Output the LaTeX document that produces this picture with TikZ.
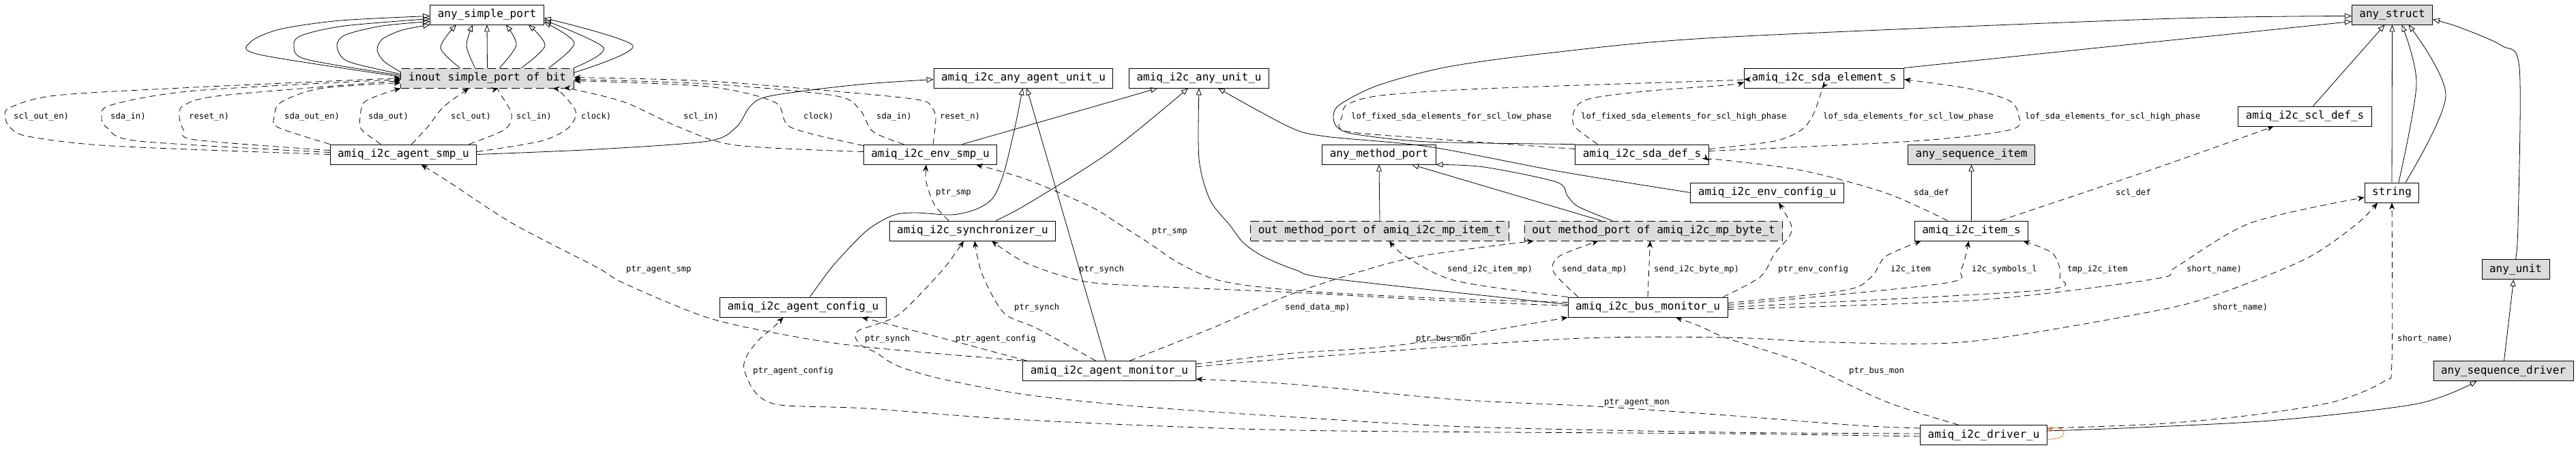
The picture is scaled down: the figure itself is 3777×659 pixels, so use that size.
\documentclass[tikz,border=0pt]{standalone}
\usepackage{fontspec}
\usepackage{tikz}
\usetikzlibrary{arrows.meta}
\newfontfamily\clsfont{DejaVu Sans Mono}
\definecolor{boxgray}{RGB}{220,220,220}
\definecolor{loopcol}{RGB}{240,120,30}

\begin{document}
\begin{tikzpicture}[x=1pt,y=-1pt]
 \tikzstyle{cls}=[draw, rectangle, line width=0.9pt, minimum height=29pt, inner xsep=11pt, inner ysep=0pt, font=\clsfont\fontsize{16}{18}\selectfont]
 \tikzstyle{basecls}=[cls, fill=boxgray]
 \tikzstyle{portcls}=[cls, fill=boxgray, dash pattern=on 12pt off 6pt]
 \tikzstyle{inh}=[line width=0.8pt, -{Triangle[open, length=10pt, width=8pt]}]
 \tikzstyle{assoc}=[line width=0.8pt, dash pattern=on 9pt off 6pt, -{Stealth[length=10pt, width=8pt]}]
 \tikzstyle{lbl}=[anchor=west, inner sep=0pt, font=\clsfont\fontsize{12.2}{14}\selectfont]
 \useasboundingbox (0,0) rectangle (3777,659);

 \node[cls] at (714,21.5) (asp) {any\_simple\_port};
 \node[basecls] at (3507.5,21.5) (astr) {any\_struct};
 \node[portcls] at (714.5,114.5) (inout) {inout simple\_port of bit};
 \node[cls] at (1500.5,114.5) (aau) {amiq\_i2c\_any\_agent\_unit\_u};
 \node[cls] at (1758,114.5) (au) {amiq\_i2c\_any\_unit\_u};
 \node[cls] at (2674.5,114.5) (sdael) {amiq\_i2c\_sda\_element\_s};
 \node[cls] at (3379.5,170.5) (scldef) {amiq\_i2c\_scl\_def\_s};
 \node[cls] at (591.5,226.5) (agsmp) {amiq\_i2c\_agent\_smp\_u};
 \node[cls] at (1364,226.5) (envsmp) {amiq\_i2c\_env\_smp\_u};
 \node[cls] at (2022,226.5) (amp) {any\_method\_port};
 \node[cls] at (2407.5,226.5) (sdadef) {amiq\_i2c\_sda\_def\_s};
 \node[basecls] at (2890.5,226.5) (aseqi) {any\_sequence\_item};
 \node[cls] at (2591,282.5) (envcfg) {amiq\_i2c\_env\_config\_u};
 \node[cls] at (3507,282.5) (str) {string};
 \node[cls] at (1426,338.5) (sync) {amiq\_i2c\_synchronizer\_u};
 \node[portcls] at (2023,338.5) (mpitem) {out method\_port of amiq\_i2c\_mp\_item\_t};
 \node[portcls] at (2424.5,338.5) (mpbyte) {out method\_port of amiq\_i2c\_mp\_byte\_t};
 \node[cls] at (2890.5,338.5) (item) {amiq\_i2c\_item\_s};
 \node[basecls] at (3688.5,395) (aunit) {any\_unit};
 \node[cls] at (1177.5,450.5) (agcfg) {amiq\_i2c\_agent\_config\_u};
 \node[cls] at (2416,450.5) (busmon) {amiq\_i2c\_bus\_monitor\_u};
 \node[cls] at (1626.5,544) (agmon) {amiq\_i2c\_agent\_monitor\_u};
 \node[basecls] at (3670.5,544) (aseqd) {any\_sequence\_driver};
 \node[cls] at (2908.5,638) (drv) {amiq\_i2c\_driver\_u};

 \draw[inh] plot[smooth] coordinates {([yshift=2pt]inout.west) (380,80) (367,62) (410,43) (500,30) ([yshift=-2pt]asp.west)};
 \draw[inh] plot[smooth] coordinates {([yshift=4pt]inout.west) (449,87) (431,67) (442,52) (505,38) ([yshift=-6pt]asp.west)};
 \draw[inh] plot[smooth] coordinates {([yshift=6pt]inout.west) (510,90) (494,67) (507,51) (560,38) ([yshift=-10pt]asp.west)};
 \draw[inh] plot[smooth] coordinates {([yshift=9pt]inout.west) (563,90) (553,73) (561,57) (590,44) (asp.south west)};
 \draw[inh] plot[smooth] coordinates {([xshift=-40pt]inout.north) (646,70) ([xshift=-45pt]asp.south)};
 \draw[inh] plot[smooth] coordinates {([xshift=-18pt]inout.north) (684,67) ([xshift=-21pt]asp.south)};
 \draw[inh] (inout.north) -- (asp.south);
 \draw[inh] plot[smooth] coordinates {([xshift=18pt]inout.north) (757,66) ([xshift=28pt]asp.south)};
 \draw[inh] plot[smooth] coordinates {([xshift=50pt]inout.north) (799,67) ([xshift=61pt]asp.south)};
 \draw[inh] plot[smooth] coordinates {([xshift=90pt]inout.north) (842,63) ([yshift=-11pt]asp.east)};
 \draw[inh] plot[smooth] coordinates {(inout.north east) (885,70) ([yshift=-8pt]asp.east)};
 \draw[inh] plot[smooth] coordinates {([yshift=8pt]inout.east) (928,67) ([yshift=-5pt]asp.east)};

 \draw[assoc] plot[smooth] coordinates {(agsmp.west) (163,214) (41,200) (14,186) (8,172) (14,158) (82,140) (286,128) (inout.west)};
 \draw[assoc] plot[smooth] coordinates {([yshift=3pt]agsmp.west) (204,207) (158,188) (149,172) (163,154) (286,133) ([yshift=-2pt]inout.west)};
 \draw[assoc] plot[smooth] coordinates {([yshift=6pt]agsmp.west) (286,205) (269,190) (263,172) (269,155) (326,140) ([yshift=-4pt]inout.west)};
 \draw[assoc] plot[smooth] coordinates {(agsmp.north west) (408,187) (402,172) (412,150) (469,130) ([yshift=-7pt]inout.west)};
 \draw[assoc] plot[smooth] coordinates {([xshift=-33pt]agsmp.north) (530,190) (528,172) (534,150) (563,137) (inout.south west)};
 \draw[assoc] plot[smooth] coordinates {([xshift=12pt]agsmp.north) (628,185) (650,157) ([xshift=-27pt]inout.south)};
 \draw[assoc] plot[smooth] coordinates {([xshift=96pt]agsmp.north) (740,190) (750,167) (732,135) ([xshift=16pt]inout.south)};
 \draw[assoc] plot[smooth] coordinates {([yshift=4pt]agsmp.east) (793,207) (834,187) (844,163) (822,135) ([xshift=96pt]inout.south)};
 \draw[assoc] plot[smooth] coordinates {([yshift=4pt]envsmp.west) (1079,213) (997,187) (916,150) (845,132) ([xshift=112pt]inout.south)};
 \draw[assoc] plot[smooth] coordinates {([yshift=13pt]envsmp.west) (1160,187) (1136,150) (1038,127) ([yshift=-4pt]inout.east)};
 \draw[assoc] plot[smooth] coordinates {([xshift=-39pt]envsmp.north) (1280,193) (1260,160) (1222,140) (1038,123) ([yshift=-2pt]inout.east)};
 \draw[assoc] plot[smooth] coordinates {([xshift=4pt]envsmp.north) (1372,173) (1366,157) (1350,147) (1260,137) (1038,119) ([yshift=1pt]inout.east)};

 \draw[inh] plot[smooth] coordinates {(agsmp.east) (875,219) (1038,207) (1079,187) (1099,157) (1120,143) (1181,133) (1270,123) ([yshift=-2pt]aau.west)};
 \draw[inh] plot[smooth] coordinates {([xshift=47pt]envsmp.north) (1619,152) ([xshift=-61pt]au.south)};
 \draw[inh] plot[smooth] coordinates {([xshift=10pt]agcfg.north) (1222,389) (1270,339) (1309,316) (1342,312) (1395,315) (1431,307) (1456,290) (1472,253) (1488,187) ([xshift=-1pt]aau.south)};
 \draw[inh] plot[smooth] coordinates {([xshift=34pt]sync.north) (1505,300) (1627,223) ([xshift=-16pt]au.south)};
 \draw[inh] ([xshift=-5pt]agmon.north) -- ([xshift=5pt]aau.south);
 \draw[inh] plot[smooth] coordinates {([yshift=4pt]busmon.west) (1955,409) (1900,396) (1852,376) (1823,356) (1803,330) (1774,293) (1758,233) (au.south)};
 \draw[inh] plot[smooth] coordinates {(envcfg.west) (2290,252) (2094,215) (1943,200) (1890,186) ([xshift=28pt]au.south)};
 \draw[inh] (mpitem.north) -- (amp.south);
 \draw[inh] ([xshift=-77pt]mpbyte.north) -- ([xshift=48pt]amp.south);
 \draw[inh] plot[smooth] coordinates {([xshift=-61pt]mpbyte.north) (2314,303) (2298,287) (2282,267) (2176,245) (amp.south east)};
 \draw[inh] (item.north) -- (aseqi.south);
 \draw[inh] (str.north) -- (astr.south);
 \draw[inh] plot[smooth] coordinates {([xshift=10pt]str.north) (3543,123) ([xshift=14pt]astr.south)};
 \draw[inh] plot[smooth] coordinates {([xshift=20pt]str.north) (3586,140) ([xshift=24pt]astr.south)};
 \draw[inh] ([xshift=12pt]scldef.north) -- ([xshift=-11pt]astr.south);
 \draw[inh] (sdael.north east) -- ([yshift=-10pt]astr.west);
 \draw[inh] plot[smooth] coordinates {(sdadef.north west) (2094,208) (1988,197) (1961,187) (1955,170) (1965,153) (2021,125) (2123,98) (2278,77) (2520,55) (3160,28) ([yshift=-2pt]astr.west)};
 \draw[inh] ([xshift=1pt]aseqd.north) -- ([xshift=-3pt]aunit.south);
 \draw[inh] plot[smooth] coordinates {(aunit.north) (3692,329) (3694,100) (3668,67) (3606,40) ([yshift=-7pt]astr.east)};
 \draw[inh] plot[smooth] coordinates {([yshift=6pt]drv.east) (3137,627) (3341,616) (3545,592) ([xshift=-39pt]aseqd.south)};

 \draw[assoc] plot[smooth] coordinates {([xshift=-35pt]sync.north) (1370,300) (1358,267) ([xshift=-6pt]envsmp.south)};
 \draw[assoc] plot[smooth] coordinates {([yshift=7pt]busmon.west) (2100,437) (1900,426) (1790,412) (1729,386) (1684,356) (1635,325) (1599,303) (1505,263) ([xshift=67pt]envsmp.south)};
 \draw[assoc] plot[smooth] coordinates {([yshift=2pt]busmon.west) (2100,440) (1900,429) (1668,419) (1586,412) (1505,386) ([xshift=28pt]sync.south)};
 \draw[assoc] plot[smooth] coordinates {([xshift=-20pt]agmon.north) (1521,482) (1472,459) (1440,402) ([xshift=3pt]sync.south)};
 \draw[assoc] plot[smooth] coordinates {([yshift=2pt]drv.west) (2530,634) (2151,626) (1900,612) (1668,596) (1505,579) (1382,556) (1317,537) (1284,517) (1263,507) (1254,494) (1260,484) (1284,476) (1321,459) (1382,396) ([xshift=-13pt]sync.south)};
 \draw[assoc] plot[smooth] coordinates {([xshift=6pt]agmon.north west) (1382,496) ([xshift=86pt]agcfg.south)};
 \draw[assoc] plot[smooth] coordinates {([yshift=-2pt]drv.west) (2530,636) (1900,631) (1505,616) (1270,599) (1144,594) (1108,576) (1091,542) (1095,522) (1112,499) (1132,482) ([xshift=-29pt]agcfg.south)};
 \draw[assoc] plot[smooth] coordinates {(agmon.north west) (1270,509) (1156,492) (1038,466) (916,416) (875,392) (752,328) (660,268) ([xshift=26pt]agsmp.south)};
 \draw[assoc] plot[smooth] coordinates {([yshift=10pt]drv.west) (2724,624) (2530,609) (2339,596) (2135,586) (1900,564) ([yshift=-12pt]agmon.east)};
 \draw[assoc] plot[smooth] coordinates {([yshift=10pt]agmon.east) (1895,518) (2053,506) (busmon.south west)};
 \draw[assoc] plot[smooth] coordinates {([xshift=30pt]agmon.north) (1780,480) (1900,429) (2066,379) ([xshift=14pt]mpbyte.south west)};
 \draw[assoc] plot[smooth] coordinates {([yshift=6pt]agmon.east) (1890,526) (2298,497) (2530,495) (2683,502) (2887,501) (3160,456) (3259,429) (3382,379) (3455,329) ([xshift=-21pt]str.south)};
 \draw[assoc] plot[smooth] coordinates {(busmon.north west) (2135,412) (2061,376) ([xshift=14pt]mpitem.south)};
 \draw[assoc] plot[smooth] coordinates {([xshift=-102pt]busmon.north) (2278,399) (2286,376) ([xshift=-81pt]mpbyte.south)};
 \draw[assoc] (busmon.north) -- ([xshift=-5pt]mpbyte.south);
 \draw[assoc] plot[smooth] coordinates {([xshift=-7pt]busmon.north east) (2581,406) (2602,372) (2624,346) (2626,329) ([xshift=17pt]envcfg.south)};
 \draw[assoc] plot[smooth] coordinates {([yshift=6pt]busmon.east) (2704,426) (2744,406) (2765,376) ([xshift=10pt]item.south west)};
 \draw[assoc] plot[smooth] coordinates {([yshift=3pt]busmon.east) (2847,416) (2875,396) ([xshift=-4pt]item.south)};
 \draw[assoc] plot[smooth] coordinates {(busmon.east) (2989,426) (3020,406) (3010,372) ([xshift=-8pt]item.south east)};
 \draw[assoc] plot[smooth] coordinates {([yshift=-3pt]busmon.east) (2900,440) (3160,409) (3190,392) (3300,327) ([yshift=-7pt]str.west)};
 \draw[assoc] plot[smooth] coordinates {([yshift=10pt]drv.east) (3160,622) (3300,609) (3423,589) (3496,559) (3507,530) (str.south)};
 \draw[assoc] plot[smooth] coordinates {([xshift=-37pt]drv.north) (2765,589) (2642,532) (2532,496) (2494,479) ([xshift=41pt]busmon.south)};
 \draw[assoc] plot[smooth] coordinates {([xshift=-35pt]item.north) (2765,283) (2642,250) (2520,234) ([yshift=-9pt]sdadef.east)};
 \draw[assoc] plot[smooth] coordinates {([xshift=42pt]item.north) (3160,247) ([xshift=-46pt]scldef.south)};
 \draw[assoc] plot[smooth] coordinates {([yshift=8pt]sdadef.west) (2094,203) (1972,192) (1968,170) (1976,153) (2025,140) (2176,130) (2530,118) ([yshift=-2pt]sdael.west)};
 \draw[assoc] plot[smooth] coordinates {([xshift=-65pt]sdadef.north) (2310,187) (2306,170) (2314,153) (2339,143) (2421,133) (2530,125) ([yshift=-6pt]sdael.west)};
 \draw[assoc] plot[smooth] coordinates {([yshift=8pt]sdadef.east) (2602,207) (2642,190) (2659,167) (2671,133) ([xshift=-3pt]sdael.south)};
 \draw[assoc] plot[smooth] coordinates {([yshift=5pt]sdadef.east) (2806,207) (2949,190) (2959,167) (2945,147) (2887,130) ([yshift=-2pt]sdael.east)};
 \draw[loopcol, line width=0.8pt, -{Stealth[open, length=7pt, width=6pt]}] ([yshift=-6pt]drv.east) .. controls (3035,646) and (3032,622) .. ([yshift=8pt]drv.east);

 \node[lbl] at (20,171) (l1) {scl\_out\_en)};
 \node[lbl] at (162,171) (l2) {sda\_in)};
 \node[lbl] at (277,171) (l3) {reset\_n)};
 \node[lbl] at (417,171) (l4) {sda\_out\_en)};
 \node[lbl] at (540,171) (l5) {sda\_out)};
 \node[lbl] at (661,171) (l6) {scl\_out)};
 \node[lbl] at (757,171) (l7) {scl\_in)};
 \node[lbl] at (852,171) (l8) {clock)};
 \node[lbl] at (1002,171) (l9) {scl\_in)};
 \node[lbl] at (1178,171) (l10) {clock)};
 \node[lbl] at (1285,171) (l11) {sda\_in)};
 \node[lbl] at (1378,171) (l12) {reset\_n)};
 \node[lbl] at (1981,171) (l13) {lof\_fixed\_sda\_elements\_for\_scl\_low\_phase};
 \node[lbl] at (2318,171) (l14) {lof\_fixed\_sda\_elements\_for\_scl\_high\_phase};
 \node[lbl] at (2673,171) (l15) {lof\_sda\_elements\_for\_scl\_low\_phase};
 \node[lbl] at (2969,171) (l16) {lof\_sda\_elements\_for\_scl\_high\_phase};
 \node[lbl] at (1372,283) (l17) {ptr\_smp};
 \node[lbl] at (2806,283) (l18) {sda\_def};
 \node[lbl] at (3102,283) (l19) {scl\_def};
 \node[lbl] at (1689,340) (l20) {ptr\_smp};
 \node[lbl] at (918,396) (l21) {ptr\_agent\_smp};
 \node[lbl] at (1582,395) (l22) {ptr\_synch};
 \node[lbl] at (2122,395) (l23) {send\_i2c\_item\_mp)};
 \node[lbl] at (2290,395) (l24) {send\_data\_mp)};
 \node[lbl] at (2425,395) (l25) {send\_i2c\_byte\_mp)};
 \node[lbl] at (2607,395) (l26) {ptr\_env\_config};
 \node[lbl] at (2772,395) (l27) {i2c\_item};
 \node[lbl] at (2891,395) (l28) {i2c\_symbols\_l};
 \node[lbl] at (3031,395) (l29) {tmp\_i2c\_item};
 \node[lbl] at (3206,395) (l30) {short\_name)};
 \node[lbl] at (1487,451) (l31) {ptr\_synch};
 \node[lbl] at (1884,451) (l32) {send\_data\_mp)};
 \node[lbl] at (3244,451) (l33) {short\_name)};
 \node[lbl] at (1268,497) (l34) {ptr\_synch};
 \node[lbl] at (1401,497) (l35) {ptr\_agent\_config};
 \node[lbl] at (2076,497) (l36) {ptr\_bus\_mon};
 \node[lbl] at (3515,497) (l37) {short\_name)};
 \node[lbl] at (1104,544) (l38) {ptr\_agent\_config};
 \node[lbl] at (2711,544) (l39) {ptr\_bus\_mon};
 \node[lbl] at (2352,591) (l40) {ptr\_agent\_mon};
\end{tikzpicture}
\end{document}
